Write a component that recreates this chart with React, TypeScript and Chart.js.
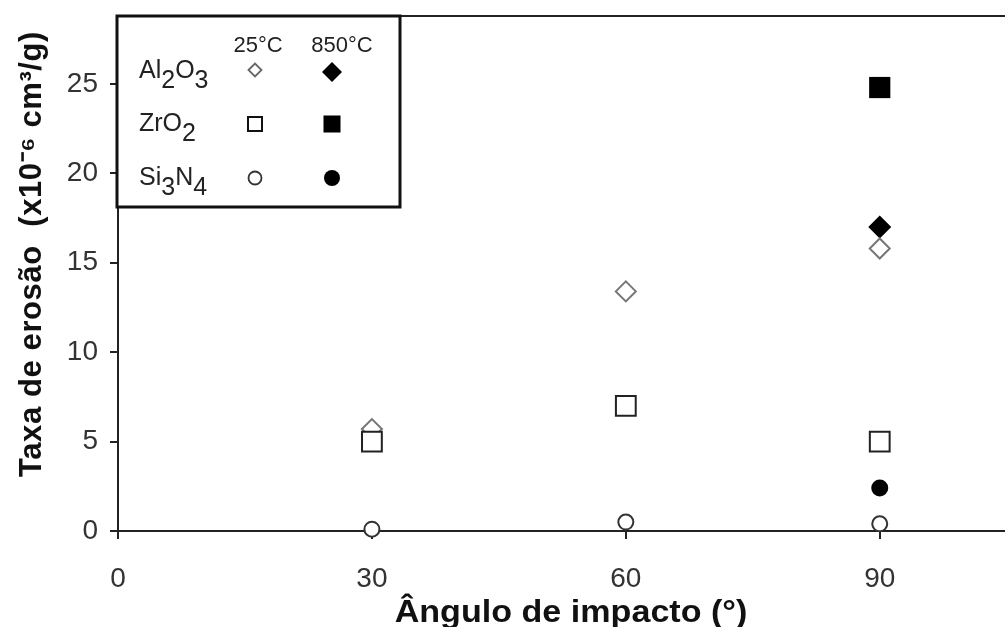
import React, { useEffect, useRef } from "react";
import { Chart, registerables } from "chart.js";

Chart.register(...registerables);

const angles = [30, 60, 90];
const al2o3_25 = [5.7, 13.4, 15.8];
const zro2_25 = [5.0, 7.0, 5.0];
const si3n4_25 = [0.1, 0.5, 0.4];
const angles850 = [90];
const al2o3_850 = [17.0];
const zro2_850 = [24.8];
const si3n4_850 = [2.4];
const xTicks = [0, 30, 60, 90];
const yTicks = [0, 5, 10, 15, 20, 25];
const xTitle = "Ângulo de impacto (°)";
const yTitle = "Taxa de erosão  (x10⁻⁶ cm³/g)";

const pts = (xs: number[], ys: number[]) => xs.map((x, i) => ({ x, y: ys[i] }));

const FONT = "Arial, 'Liberation Sans', sans-serif";

const decor = {
  id: "decor",
  afterDraw(chart: any) {
    const ctx = chart.ctx;
    const ca = chart.chartArea;
    ctx.save();
    // top frame line
    ctx.strokeStyle = "#222";
    ctx.lineWidth = 2;
    ctx.beginPath();
    ctx.moveTo(ca.left - 1, ca.top);
    ctx.lineTo(ca.right, ca.top);
    ctx.stroke();

    // x title
    ctx.fillStyle = "#111";
    ctx.font = `bold 31px ${FONT}`;
    ctx.textAlign = "center";
    ctx.textBaseline = "alphabetic";
    ctx.save();
    ctx.translate(571, 622);
    ctx.scale(1.1, 1);
    ctx.fillText(xTitle, 0, 0);
    ctx.restore();

    // y title
    ctx.save();
    ctx.translate(41, 254);
    ctx.rotate(-Math.PI / 2);
    ctx.font = `bold 31px ${FONT}`;
    (ctx as any).letterSpacing = "0.6px";
    ctx.textAlign = "center";
    ctx.fillText(yTitle, 0, 0);
    ctx.restore();

    // legend box
    const bx = ca.left - 1, by = ca.top, bw = 283, bh = 191;
    ctx.fillStyle = "#fff";
    ctx.fillRect(bx, by, bw, bh);
    ctx.lineWidth = 3;
    ctx.strokeStyle = "#111";
    ctx.strokeRect(bx, by, bw, bh);

    ctx.fillStyle = "#222";
    ctx.font = `22px ${FONT}`;
    ctx.textAlign = "center";
    ctx.fillText("25°C", 258, 52);
    ctx.fillText("850°C", 342, 52);

    const drawChem = (parts: [string, boolean][], x: number, y: number) => {
      let cx = x;
      ctx.textAlign = "left";
      for (const [t, sub] of parts) {
        ctx.font = `25px ${FONT}`;
        ctx.fillText(t, cx, sub ? y + 10 : y);
        cx += ctx.measureText(t).width;
      }
    };
    ctx.fillStyle = "#222";
    drawChem([["Al", false], ["2", true], ["O", false], ["3", true]], 139, 78);
    drawChem([["ZrO", false], ["2", true]], 139, 131);
    drawChem([["Si", false], ["3", true], ["N", false], ["4", true]], 139, 185);

    const diamond = (x: number, y: number, r: number) => {
      ctx.beginPath();
      ctx.moveTo(x - r, y);
      ctx.lineTo(x, y - r);
      ctx.lineTo(x + r, y);
      ctx.lineTo(x, y + r);
      ctx.closePath();
    };
    // Al2O3
    diamond(255, 70, 6.5);
    ctx.lineWidth = 1.8;
    ctx.strokeStyle = "#666";
    ctx.fillStyle = "#fff";
    ctx.fill();
    ctx.stroke();
    diamond(332, 72, 10);
    ctx.fillStyle = "#000";
    ctx.fill();
    // ZrO2
    ctx.strokeStyle = "#111";
    ctx.lineWidth = 2;
    ctx.strokeRect(255 - 7, 124 - 7, 14, 14);
    ctx.fillStyle = "#000";
    ctx.fillRect(332 - 8.5, 124 - 8.5, 17, 17);
    // Si3N4
    ctx.beginPath();
    ctx.arc(255, 178, 6.5, 0, Math.PI * 2);
    ctx.strokeStyle = "#333";
    ctx.lineWidth = 1.8;
    ctx.stroke();
    ctx.beginPath();
    ctx.arc(332, 178, 8, 0, Math.PI * 2);
    ctx.fillStyle = "#000";
    ctx.fill();
    ctx.restore();
  },
};

export default function App() {
  const ref = useRef<HTMLCanvasElement | null>(null);
  useEffect(() => {
    if (!ref.current) return;
    const open = (label: string, xs: number[], ys: number[], style: string, r: number, color: string) => ({
      label,
      data: pts(xs, ys),
      pointStyle: style,
      pointRadius: r,
      pointBorderWidth: 2,
      pointBorderColor: color,
      pointBackgroundColor: "#fff",
      showLine: false,
      clip: false,
    });
    const filled = (label: string, xs: number[], ys: number[], style: string, r: number) => ({
      label,
      data: pts(xs, ys),
      pointStyle: style,
      pointRadius: r,
      pointBorderWidth: 0,
      pointBorderColor: "#000",
      pointBackgroundColor: "#000",
      showLine: false,
      clip: false,
    });
    const chart = new Chart(ref.current, {
      type: "scatter",
      data: {
        datasets: [
          open("Si3N4 25°C", angles, si3n4_25, "circle", 7.5, "#333"),
          open("ZrO2 25°C", angles, zro2_25, "rect", 14, "#222"),
          open("Al2O3 25°C", angles, al2o3_25, "rectRot", 10, "#777"),
          filled("Si3N4 850°C", angles850, si3n4_850, "circle", 8.5),
          filled("ZrO2 850°C", angles850, zro2_850, "rect", 15),
          filled("Al2O3 850°C", angles850, al2o3_850, "rectRot", 11.5),
        ] as any,
      },
      options: {
        animation: false,
        responsive: false,
        maintainAspectRatio: false,
        layout: { autoPadding: false, padding: { top: 16, right: 0, left: 0, bottom: 0 } },
        plugins: { legend: { display: false }, tooltip: { enabled: false } },
        scales: {
          x: {
            type: "linear",
            min: 0,
            max: 104.8,
            afterBuildTicks: (s: any) => {
              s.ticks = xTicks.map((v) => ({ value: v }));
            },
            afterFit: (s: any) => {
              s.height = 96;
              s.paddingLeft = 0;
              s.paddingRight = 0;
            },
            grid: { drawOnChartArea: false, drawTicks: true, tickLength: 8, color: "#222", lineWidth: 2 },
            border: { display: true, color: "#222", width: 2 },
            ticks: { color: "#333", font: { size: 28, family: FONT }, padding: 23 },
          },
          y: {
            type: "linear",
            min: 0,
            max: 28.8,
            afterBuildTicks: (s: any) => {
              s.ticks = yTicks.map((v) => ({ value: v }));
            },
            afterFit: (s: any) => {
              s.width = 118;
              s.paddingTop = 0;
              s.paddingBottom = 0;
            },
            grid: { drawOnChartArea: false, drawTicks: true, tickLength: 8, color: "#222", lineWidth: 2 },
            border: { display: true, color: "#222", width: 2 },
            ticks: { color: "#333", font: { size: 28, family: FONT }, padding: 12 },
          },
        },
      },
      plugins: [decor],
    } as any);
    return () => chart.destroy();
  }, []);
  return (
    <div style={{ position: "fixed", left: 0, top: 0, width: 1005, height: 627, background: "#fff" }}>
      <canvas ref={ref} width={1005} height={627} style={{ width: 1005, height: 627, display: "block" }} />
    </div>
  );
}
